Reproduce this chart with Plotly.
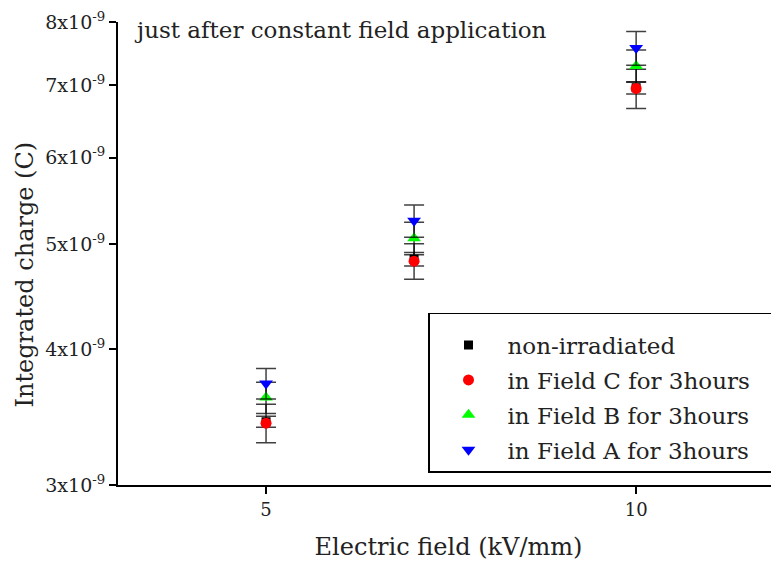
import plotly.graph_objects as go

# electric field (kV/mm)
field = [5, 7, 10]

# integrated charge (C) and error bars
non_irr = [3.43e-9, 4.84e-9, 6.96e-9]
non_irr_err = [0.04e-9, 0.07e-9, 0.09e-9]
field_c = [3.42e-9, 4.82e-9, 6.95e-9]
field_c_err = [0.14e-9, 0.18e-9, 0.29e-9]
field_b = [3.61e-9, 5.06e-9, 7.29e-9]
field_b_err = [0.12e-9, 0.175e-9, 0.25e-9]
field_a = [3.72e-9, 5.25e-9, 7.57e-9]
field_a_err = [0.12e-9, 0.18e-9, 0.27e-9]

y_ticks = [3e-9, 4e-9, 5e-9, 6e-9, 7e-9, 8e-9]
y_labels = ["3x10<sup>-9</sup>", "4x10<sup>-9</sup>", "5x10<sup>-9</sup>",
            "6x10<sup>-9</sup>", "7x10<sup>-9</sup>", "8x10<sup>-9</sup>"]

FONT = "DejaVu Serif"
PAD = "\u00a0" * 3  # widens the legend box on the right

series = [
    ("non-irradiated", non_irr, non_irr_err, "square", "black", 9),
    ("in Field C for 3hours", field_c, field_c_err, "circle", "red", 11),
    ("in Field B for 3hours", field_b, field_b_err, "triangle-up", "#00ff00", 12),
    ("in Field A for 3hours", field_a, field_a_err, "triangle-down", "blue", 12),
]

fig = go.Figure()
for i, (name, vals, errs, sym, col, sz) in enumerate(series):
    fig.add_trace(go.Scatter(
        x=field, y=vals, name=name + PAD, mode="markers", legendgroup=str(i),
        marker=dict(symbol=sym, color=col, size=sz, line=dict(width=0)),
        error_y=dict(type="data", array=errs, visible=True,
                     color="rgba(0,0,0,0.75)", thickness=1.5, width=10),
    ))

# page body has an 8px margin, so the figure is drawn 8px smaller
fig.add_annotation(text="just after constant field application",
                   x=0.021, y=0.983, xref="paper", yref="paper",
                   xanchor="left", yanchor="middle", showarrow=False,
                   font=dict(family=FONT, size=23, color="#222"))
# y title as annotation so it can sit a bit lower like the original
fig.add_annotation(text="Integrated charge (C)", textangle=-90,
                   x=0, y=0.4546, xref="paper", yref="paper", xshift=-93,
                   xanchor="center", yanchor="middle", showarrow=False,
                   font=dict(family=FONT, size=24, color="#222"))

fig.update_layout(
    width=771, height=553,
    margin=dict(l=110, r=0, t=14, b=76),
    plot_bgcolor="white", paper_bgcolor="white",
    font=dict(family=FONT, color="#222"),
    xaxis=dict(range=[3, 11.93], tickvals=[5, 10], ticks="outside",
               ticklen=7, tickwidth=2, tickcolor="black",
               showline=True, linecolor="black", linewidth=2,
               showgrid=False, zeroline=False,
               tickfont=dict(size=18),
               title=dict(text="Electric field (kV/mm)", font=dict(size=24),
                          standoff=23)),
    yaxis=dict(type="log", range=[-8.5229, -8.0969],
               tickvals=y_ticks, ticktext=y_labels, ticks="outside",
               ticklen=7, tickwidth=2, tickcolor="black",
               showline=True, linecolor="black", linewidth=2,
               showgrid=False, zeroline=False,
               tickfont=dict(size=19)),
    legend=dict(x=1, y=0.026, xanchor="right", yanchor="bottom",
                bordercolor="black", borderwidth=1.5, bgcolor="white",
                font=dict(size=23), itemwidth=68, tracegroupgap=2,
                title=dict(text="\u00a0", font=dict(size=7))),
    showlegend=True,
)

fig.write_html("out.html")
